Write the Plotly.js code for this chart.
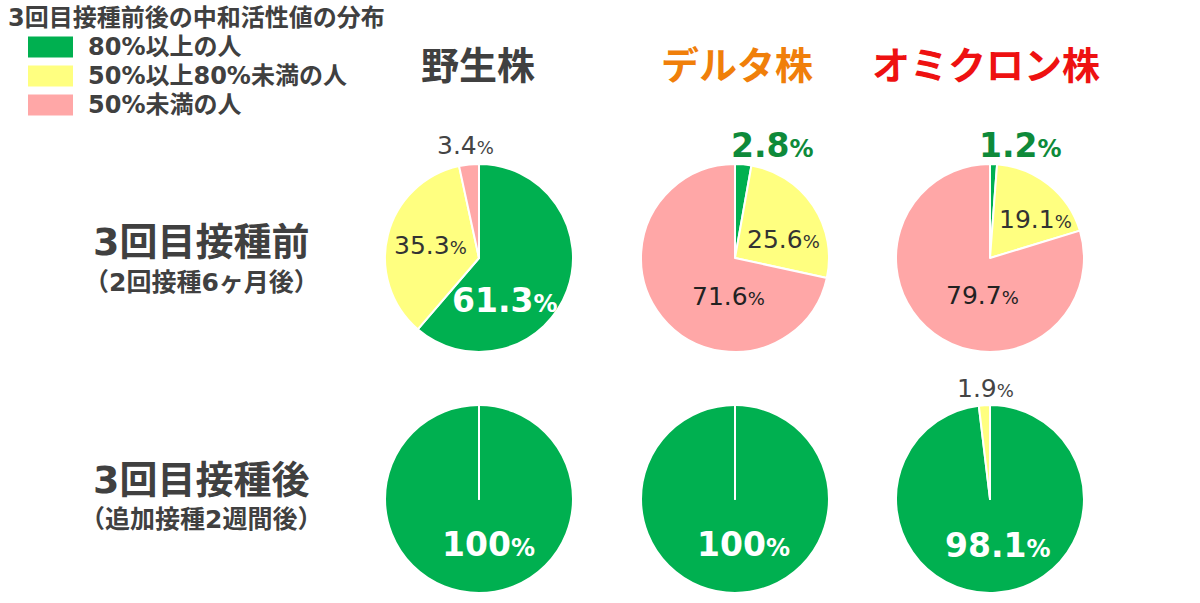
<!DOCTYPE html>
<html>
<head>
<meta charset="utf-8">
<script src="https://cdn.plot.ly/plotly-3.0.1.min.js"></script>
<style>html,body{margin:0;padding:0;background:#fff;}#chart{width:1200px;height:603px;}</style>
</head>
<body>
<div id="chart"></div>
<script>
// ---- data ----
var categories = ['80%以上の人', '50%以上80%未満の人', '50%未満の人'];
var strains = ['野生株', 'デルタ株', 'オミクロン株'];
var stages = ['3回目接種前', '3回目接種後'];
var stageNotes = ['（2回接種6ヶ月後）', '（追加接種2週間後）'];
var legendTitle = '3回目接種前後の中和活性値の分布';
var before_wild = [61.3, 35.3, 3.4];
var before_delta = [2.8, 25.6, 71.6];
var before_omicron = [1.2, 19.1, 79.7];
var after_wild = [100, 0, 0];
var after_delta = [100, 0, 0];
var after_omicron = [98.1, 1.9, 0];

// ---- layout config ----
var W = 1200, H = 603;
var FONT = '"DejaVu Sans", "Noto Sans CJK JP", sans-serif';
var colors = ['#00B050', '#FFFF80', '#FFA7A7'];
var strainColors = ['#404040', '#F07F0A', '#EE1111'];
var colX = [479, 735, 990];
var rowY = [258, 499];
var R = 94;
function px(x){ return x / W; }
function py(y){ return 1 - y / H; }

var grid = [[before_wild, before_delta, before_omicron], [after_wild, after_delta, after_omicron]];

// label styles: [x, y, size, color, bold]
var labelPos = [
  [ // row 0
    [[504, 300, 33, '#ffffff', true], [430, 245, 25, '#333333', false], [465, 145, 25, '#444444', false]],
    [[772, 145, 33, '#0E8A3A', true], [783, 240, 25, '#333333', false], [728, 296, 25, '#222222', false]],
    [[1020, 145, 33, '#0E8A3A', true], [1035, 219, 25, '#333333', false], [982, 295, 25, '#222222', false]]
  ],
  [ // row 1
    [[489, 544, 33, '#ffffff', true], null, null],
    [[743, 544, 33, '#ffffff', true], null, null],
    [[997, 545, 33, '#ffffff', true], [985, 388, 25, '#444444', false], null]
  ]
];

var traces = [];
var annotations = [];
var shapes = [];

for (var r = 0; r < 2; r++) {
  for (var c = 0; c < 3; c++) {
    var vals = grid[r][c];
    traces.push({
      type: 'pie',
      labels: categories,
      values: vals,
      sort: false,
      direction: 'clockwise',
      rotation: 0,
      textinfo: 'none',
      hoverinfo: 'label+percent',
      showlegend: false,
      marker: {colors: colors, line: {color: '#ffffff', width: 2}},
      domain: {x: [px(colX[c] - R), px(colX[c] + R)], y: [py(rowY[r] + R), py(rowY[r] - R)]}
    });
    // seam line at 12 o'clock for full pies
    var total = vals.reduce(function(a, b){ return a + b; }, 0);
    if (vals[0] === total) {
      shapes.push({type: 'line', xref: 'paper', yref: 'paper',
        x0: px(colX[c]), x1: px(colX[c]), y0: py(rowY[r]), y1: py(rowY[r] - R),
        line: {color: '#ffffff', width: 2}});
    }
    for (var k = 0; k < 3; k++) {
      var lp = labelPos[r][c][k];
      if (!lp || vals[k] <= 0) continue;
      var pctSize = Math.round(lp[2] * 0.72);
      var t = String(vals[k]) + '<span style="font-size:' + pctSize + 'px">%</span>';
      if (lp[4]) t = '<b>' + t + '</b>';
      annotations.push({xref: 'paper', yref: 'paper', x: px(lp[0]), y: py(lp[1]),
        xanchor: 'center', yanchor: 'middle', showarrow: false, text: t,
        font: {family: FONT, size: lp[2], color: lp[3]}});
    }
  }
}

// column titles
for (var c2 = 0; c2 < 3; c2++) {
  annotations.push({xref: 'paper', yref: 'paper', x: px([478, 737, 986][c2]), y: py(66),
    xanchor: 'center', yanchor: 'middle', showarrow: false,
    text: '<b>' + strains[c2] + '</b>', font: {family: FONT, size: 38, color: strainColors[c2]}});
}
// row titles
var rowTitleY = [[242, 282], [480, 519]];
for (var r2 = 0; r2 < 2; r2++) {
  annotations.push({xref: 'paper', yref: 'paper', x: px(201), y: py(rowTitleY[r2][0]),
    xanchor: 'center', yanchor: 'middle', showarrow: false,
    text: '<b>' + stages[r2] + '</b>', font: {family: FONT, size: 38, color: '#404040'}});
  annotations.push({xref: 'paper', yref: 'paper', x: px(201), y: py(rowTitleY[r2][1]),
    xanchor: 'center', yanchor: 'middle', showarrow: false,
    text: '<b>' + stageNotes[r2] + '</b>', font: {family: FONT, size: 25, color: '#404040'}});
}
// legend
annotations.push({xref: 'paper', yref: 'paper', x: px(6), y: py(18),
  xanchor: 'left', yanchor: 'middle', showarrow: false,
  text: '<b>' + legendTitle + '</b>', font: {family: FONT, size: 24, color: '#404040'}});
var legY = [47, 76, 105];
for (var i = 0; i < 3; i++) {
  shapes.push({type: 'rect', xref: 'paper', yref: 'paper',
    x0: px(28), x1: px(73), y0: py(legY[i] + 10.5), y1: py(legY[i] - 10.5),
    fillcolor: colors[i], line: {width: 0}});
  annotations.push({xref: 'paper', yref: 'paper', x: px(86), y: py(legY[i]),
    xanchor: 'left', yanchor: 'middle', showarrow: false,
    text: '<b>' + categories[i] + '</b>', font: {family: FONT, size: 24, color: '#404040'}});
}

var layout = {
  width: W, height: H,
  margin: {l: 0, r: 0, t: 0, b: 0},
  paper_bgcolor: '#ffffff',
  showlegend: false,
  annotations: annotations,
  shapes: shapes
};
Plotly.newPlot('chart', traces, layout, {displayModeBar: false, staticPlot: true});
</script>
</body>
</html>
